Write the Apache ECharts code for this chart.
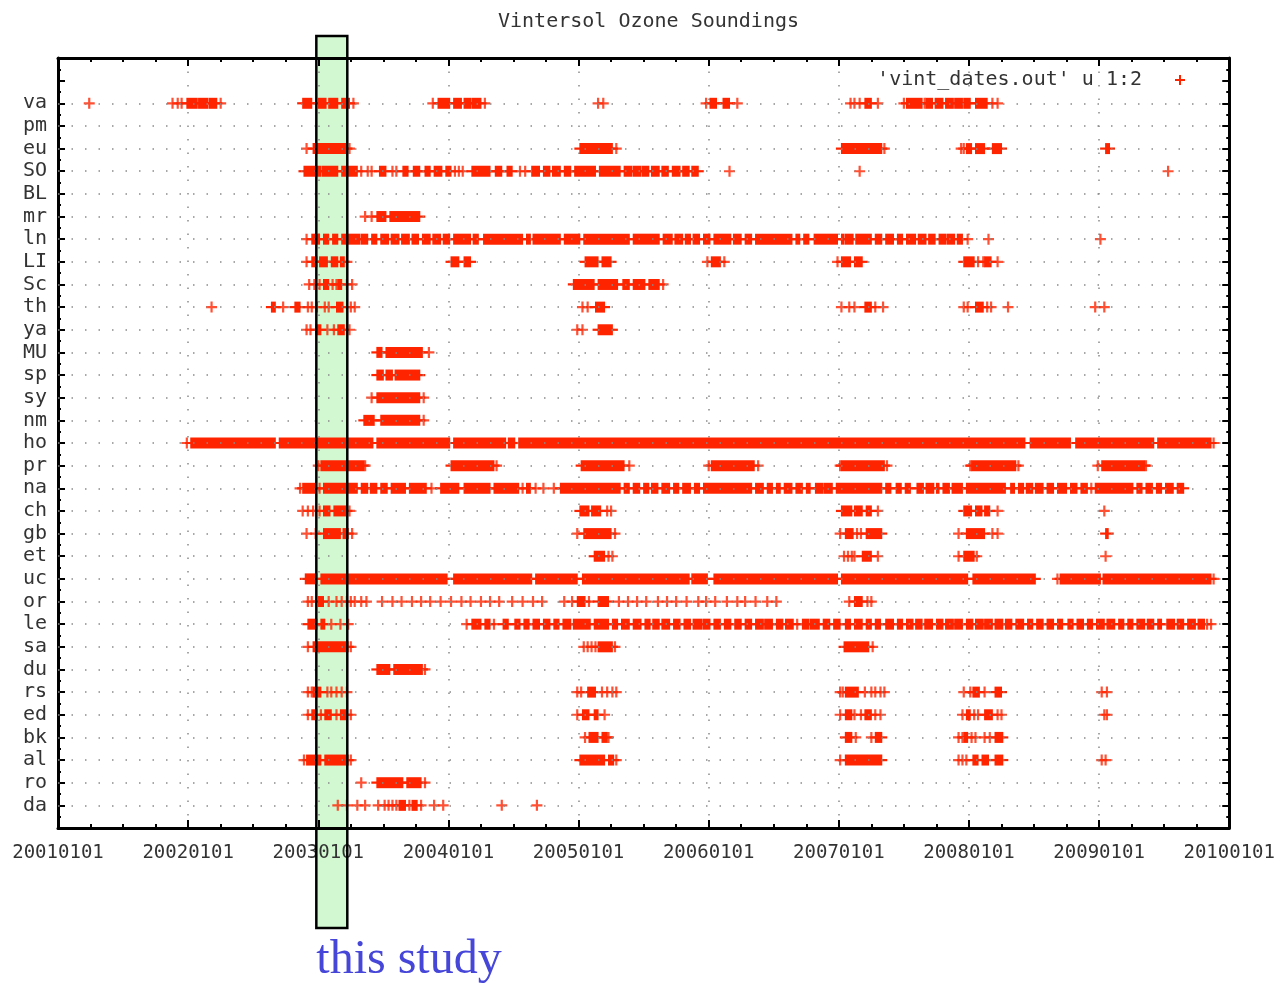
<!DOCTYPE html>
<html>
<head>
<meta charset="utf-8">
<script src="https://cdn.jsdelivr.net/npm/echarts@6/dist/echarts.min.js"></script>
<style>
html,body{margin:0;padding:0;background:#fff;}
#chart{width:1278px;height:985px;}
</style>
</head>
<body>
<div id="chart"></div>
<script>
// ---------------- data (decimal years) ----------------
const TITLE = 'Vintersol Ozone Soundings';
const LEGEND_NAME = "'vint_dates.out' u 1:2";
const X_LABELS = ['20010101','20020101','20030101','20040101','20050101','20060101','20070101','20080101','20090101','20100101'];
const CATS = ['va','pm','eu','SO','BL','mr','ln','LI','Sc','th','ya','MU','sp','sy','nm','ho','pr','na','ch','gb','et','uc','or','le','sa','du','rs','ed','bk','al','ro','da'];
const STUDY = [2002.985, 2003.223];
const STUDY_TEXT = 'this study';

const runs_va = [[2001.99,2002.07],[2002.08,2002.15],[2002.16,2002.22],[2002.88,2002.95],[2003.00,2003.06],[2003.08,2003.15],[2003.18,2003.24],[2003.92,2004.01],[2004.04,2004.10],[2004.12,2004.17],[2004.18,2004.25],[2006.01,2006.06],[2006.11,2006.16],[2007.20,2007.25],[2007.52,2007.64],[2007.67,2007.72],[2007.74,2007.80],[2007.82,2007.88],[2007.89,2007.95],[2007.96,2008.01],[2008.05,2008.14]];
const pts_va = [2001.24,2001.88,2001.92,2001.95,2002.25,2003.27,2003.88,2004.28,2005.15,2005.19,2005.98,2006.22,2007.09,2007.12,2007.16,2007.30,2007.50,2007.66,2008.18,2008.22];
const runs_pm = [];
const pts_pm = [];
const runs_eu = [[2002.96,2003.22],[2005.01,2005.26],[2007.02,2007.33],[2007.98,2008.02],[2008.05,2008.12],[2008.18,2008.25],[2009.05,2009.08]];
const pts_eu = [2002.91,2003.24,2005.29,2007.35,2007.94,2007.96];
const runs_SO = [[2002.89,2003.02],[2003.03,2003.15],[2003.18,2003.30],[2003.47,2003.52],[2003.65,2003.69],[2003.73,2003.78],[2003.82,2003.86],[2003.89,2003.95],[2003.98,2004.02],[2004.18,2004.32],[2004.36,2004.41],[2004.45,2004.49],[2004.64,2004.70],[2004.73,2004.78],[2004.80,2004.86],[2004.89,2004.94],[2004.97,2005.13],[2005.16,2005.32],[2005.35,2005.41],[2005.42,2005.48],[2005.49,2005.54],[2005.56,2005.62],[2005.64,2005.69],[2005.72,2005.78],[2005.80,2005.85],[2005.87,2005.92]];
const pts_SO = [2003.33,2003.38,2003.41,2003.57,2003.60,2004.05,2004.08,2004.11,2004.55,2004.59,2006.16,2007.16,2009.53];
const runs_BL = [];
const pts_BL = [];
const runs_mr = [[2003.45,2003.52],[2003.55,2003.78]];
const pts_mr = [2003.36,2003.41];
const runs_ln = [[2002.95,2003.01],[2003.04,2003.08],[2003.11,2003.15],[2003.18,2003.32],[2003.33,2003.38],[2003.41,2003.45],[2003.48,2003.54],[2003.56,2003.62],[2003.64,2003.70],[2003.72,2003.77],[2003.80,2003.86],[2003.88,2003.94],[2003.96,2004.01],[2004.04,2004.17],[2004.19,2004.23],[2004.27,2004.57],[2004.60,2004.63],[2004.65,2004.86],[2004.89,2005.01],[2005.04,2005.39],[2005.42,2005.62],[2005.65,2005.72],[2005.74,2005.80],[2005.82,2005.86],[2005.88,2005.93],[2005.96,2006.01],[2006.04,2006.17],[2006.19,2006.25],[2006.28,2006.33],[2006.36,2006.64],[2006.67,2006.70],[2006.73,2006.77],[2006.81,2006.99],[2007.02,2007.04],[2007.05,2007.11],[2007.13,2007.25],[2007.28,2007.33],[2007.36,2007.42],[2007.45,2007.49],[2007.52,2007.59],[2007.61,2007.67],[2007.69,2007.74],[2007.77,2007.82],[2007.83,2007.89],[2007.91,2007.95]];
const pts_ln = [2002.91,2007.99,2008.15,2009.01];
const runs_LI = [[2002.95,2002.99],[2003.01,2003.07],[2003.10,2003.15],[2003.17,2003.20],[2004.02,2004.08],[2004.12,2004.17],[2005.05,2005.15],[2005.18,2005.25],[2006.02,2006.09],[2007.02,2007.09],[2007.12,2007.18],[2007.96,2008.04],[2008.12,2008.17]];
const pts_LI = [2002.91,2003.22,2005.99,2006.12,2006.99,2008.07,2008.11,2008.22];
const runs_Sc = [[2003.04,2003.08],[2003.15,2003.18],[2004.96,2005.12],[2005.15,2005.30],[2005.34,2005.39],[2005.42,2005.51],[2005.54,2005.62]];
const pts_Sc = [2002.93,2002.97,2003.01,2003.11,2003.14,2003.22,2003.26,2005.65];
const runs_th = [[2002.64,2002.67],[2002.82,2002.86],[2003.14,2003.19],[2005.13,2005.20],[2007.20,2007.25],[2008.05,2008.11]];
const pts_th = [2002.18,2002.73,2002.92,2002.95,2002.99,2003.05,2003.08,2003.25,2003.28,2005.03,2005.07,2007.02,2007.08,2007.12,2007.28,2007.34,2007.96,2007.99,2008.14,2008.17,2008.30,2008.97,2009.04];
const runs_ya = [[2002.98,2003.02],[2003.15,2003.20],[2005.15,2005.26]];
const pts_ya = [2002.91,2002.94,2003.07,2003.12,2003.24,2004.99,2005.03];
const runs_MU = [[2003.45,2003.49],[2003.52,2003.80]];
const pts_MU = [2003.85];
const runs_sp = [[2003.45,2003.50],[2003.52,2003.57],[2003.59,2003.78]];
const pts_sp = [];
const runs_sy = [[2003.45,2003.78]];
const pts_sy = [2003.41,2003.81];
const runs_nm = [[2003.35,2003.43],[2003.48,2003.78]];
const pts_nm = [2003.81];
const runs_ho = [[2002.02,2002.67],[2002.70,2003.42],[2003.45,2004.01],[2004.04,2004.44],[2004.46,2004.51],[2004.54,2008.43],[2008.47,2008.78],[2008.82,2009.42],[2009.45,2009.86]];
const pts_ho = [2001.99,2009.88];
const runs_pr = [[2003.02,2003.35],[2004.02,2004.35],[2005.02,2005.35],[2006.02,2006.35],[2007.02,2007.35],[2008.02,2008.36],[2009.02,2009.35]];
const pts_pr = [2003.00,2003.36,2004.37,2005.39,2006.00,2006.38,2007.01,2007.37,2008.01,2008.38,2008.99,2009.36];
const runs_na = [[2002.88,2002.98],[2003.04,2003.30],[2003.33,2003.38],[2003.40,2003.45],[2003.48,2003.53],[2003.56,2003.67],[2003.70,2003.83],[2003.94,2004.08],[2004.12,2004.32],[2004.35,2004.54],[2004.60,2004.63],[2004.86,2005.32],[2005.35,2005.39],[2005.42,2005.47],[2005.50,2005.54],[2005.56,2005.61],[2005.64,2005.70],[2005.73,2005.77],[2005.80,2005.86],[2005.89,2005.93],[2005.96,2006.33],[2006.36,2006.42],[2006.45,2006.49],[2006.52,2006.55],[2006.58,2006.64],[2006.67,2006.72],[2006.75,2006.78],[2006.82,2006.88],[2006.89,2006.95],[2006.98,2007.33],[2007.36,2007.40],[2007.44,2007.48],[2007.51,2007.55],[2007.60,2007.65],[2007.67,2007.73],[2007.75,2007.77],[2007.80,2007.85],[2007.87,2007.95],[2007.98,2008.28],[2008.32,2008.35],[2008.38,2008.42],[2008.44,2008.49],[2008.51,2008.57],[2008.60,2008.65],[2008.68,2008.75],[2008.78,2008.83],[2008.86,2008.91],[2008.97,2009.26],[2009.29,2009.33],[2009.36,2009.41],[2009.44,2009.48],[2009.51,2009.57],[2009.60,2009.65]];
const pts_na = [2002.86,2003.01,2003.87,2004.57,2004.67,2004.73,2004.81,2008.94];
const runs_ch = [[2003.04,2003.09],[2003.12,2003.22],[2005.01,2005.08],[2005.10,2005.17],[2007.02,2007.10],[2007.12,2007.18],[2007.21,2007.25],[2007.96,2008.02],[2008.05,2008.10],[2008.12,2008.16]];
const pts_ch = [2002.88,2002.92,2002.96,2003.01,2003.24,2005.22,2005.25,2007.30,2008.22,2009.04];
const runs_gb = [[2003.04,2003.17],[2003.19,2003.23],[2005.04,2005.25],[2007.05,2007.11],[2007.21,2007.33],[2007.98,2008.12],[2009.05,2009.07]];
const pts_gb = [2002.91,2002.98,2003.26,2004.99,2005.28,2007.01,2007.14,2007.17,2007.92,2008.18,2008.22];
const runs_et = [[2005.12,2005.20],[2007.18,2007.25],[2007.96,2008.04]];
const pts_et = [2005.23,2005.26,2007.04,2007.07,2007.10,2007.12,2007.30,2007.92,2008.06,2009.05];
const runs_uc = [[2002.90,2002.99],[2003.02,2003.99],[2004.04,2004.64],[2004.67,2004.99],[2005.03,2005.85],[2005.87,2005.99],[2006.04,2006.99],[2007.02,2007.99],[2008.03,2008.51],[2008.70,2009.01],[2009.03,2009.86]];
const pts_uc = [2008.68,2009.88];
const runs_or = [[2003.00,2003.04],[2004.99,2005.05],[2005.15,2005.23],[2007.12,2007.18]];
const pts_or = [2002.92,2002.95,2003.08,2003.14,2003.18,2003.22,2003.25,2003.28,2003.33,2003.37,2003.49,2003.57,2003.64,2003.72,2003.79,2003.86,2003.94,2004.02,2004.10,2004.17,2004.25,2004.32,2004.39,2004.49,2004.57,2004.65,2004.72,2004.89,2004.95,2005.08,2005.31,2005.38,2005.45,2005.52,2005.61,2005.68,2005.75,2005.83,2005.92,2005.98,2006.05,2006.14,2006.22,2006.28,2006.36,2006.45,2006.52,2007.08,2007.22,2007.25];
const runs_le = [[2002.92,2002.99],[2003.02,2003.05],[2004.18,2004.25],[2004.28,2004.32],[2004.42,2004.46],[2004.51,2004.55],[2004.58,2004.62],[2004.65,2004.70],[2004.73,2004.78],[2004.81,2004.85],[2004.88,2004.94],[2004.96,2005.09],[2005.12,2005.23],[2005.26,2005.30],[2005.33,2005.39],[2005.42,2005.48],[2005.51,2005.55],[2005.57,2005.62],[2005.64,2005.70],[2005.73,2005.78],[2005.81,2005.86],[2005.88,2005.95],[2005.96,2006.01],[2006.04,2006.09],[2006.12,2006.17],[2006.20,2006.25],[2006.28,2006.33],[2006.36,2006.42],[2006.43,2006.49],[2006.52,2006.57],[2006.59,2006.65],[2006.72,2006.77],[2006.78,2006.85],[2006.88,2006.93],[2006.96,2007.01],[2007.05,2007.09],[2007.12,2007.18],[2007.21,2007.25],[2007.28,2007.32],[2007.36,2007.42],[2007.45,2007.49],[2007.52,2007.57],[2007.59,2007.64],[2007.66,2007.72],[2007.75,2007.80],[2007.82,2007.88],[2007.89,2007.95],[2007.98,2008.03],[2008.05,2008.11],[2008.12,2008.18],[2008.20,2008.26],[2008.28,2008.33],[2008.36,2008.42],[2008.45,2008.49],[2008.52,2008.57],[2008.60,2008.65],[2008.68,2008.72],[2008.76,2008.80],[2008.83,2008.88],[2008.91,2008.95],[2008.98,2009.04],[2009.06,2009.12],[2009.15,2009.19],[2009.22,2009.26],[2009.29,2009.35],[2009.37,2009.42],[2009.45,2009.48],[2009.52,2009.58],[2009.60,2009.65],[2009.68,2009.74],[2009.76,2009.81]];
const pts_le = [2003.10,2003.17,2003.23,2004.14,2004.35,2006.68,2009.83,2009.86];
const runs_sa = [[2002.96,2003.23],[2005.15,2005.26],[2007.04,2007.23]];
const pts_sa = [2002.92,2003.25,2005.04,2005.07,2005.10,2005.13,2005.28,2007.26];
const runs_du = [[2003.45,2003.55],[2003.58,2003.80]];
const pts_du = [2003.82];
const runs_rs = [[2002.96,2003.02],[2005.07,2005.13],[2007.05,2007.15],[2008.03,2008.08],[2008.20,2008.25]];
const pts_rs = [2002.92,2002.95,2003.07,2003.10,2003.14,2003.18,2003.22,2004.99,2005.02,2005.18,2005.22,2005.26,2005.29,2007.01,2007.03,2007.20,2007.25,2007.28,2007.32,2007.35,2007.96,2008.01,2008.12,2009.02,2009.06];
const runs_ed = [[2002.95,2002.99],[2003.05,2003.10],[2003.17,2003.22],[2005.03,2005.08],[2005.12,2005.15],[2007.05,2007.10],[2007.20,2007.25],[2007.98,2008.01],[2008.12,2008.18]];
const pts_ed = [2002.92,2003.02,2003.14,2003.25,2004.99,2005.20,2007.01,2007.12,2007.17,2007.28,2007.32,2007.95,2008.04,2008.07,2008.22,2008.25,2009.04,2009.06];
const runs_bk = [[2005.08,2005.15],[2005.18,2005.22],[2007.05,2007.10],[2007.28,2007.33],[2007.96,2007.99],[2008.20,2008.26]];
const pts_bk = [2005.05,2005.23,2007.13,2007.25,2007.92,2007.95,2008.02,2008.05,2008.12,2008.16];
const runs_al = [[2002.91,2003.02],[2003.05,2003.23],[2005.01,2005.20],[2005.23,2005.27],[2007.05,2007.33],[2008.03,2008.07],[2008.10,2008.15],[2008.20,2008.26]];
const pts_al = [2002.89,2003.25,2005.29,2007.01,2007.92,2007.95,2007.98,2009.02,2009.05];
const runs_ro = [[2003.45,2003.65],[2003.68,2003.79]];
const pts_ro = [2003.33,2003.82];
const runs_da = [[2003.62,2003.67],[2003.72,2003.76]];
const pts_da = [2003.15,2003.22,2003.30,2003.36,2003.46,2003.51,2003.54,2003.57,2003.60,2003.70,2003.79,2003.89,2003.96,2004.41,2004.68];

// ---------------- build ----------------
const STATION_DATA = {
  va:[runs_va,pts_va], pm:[runs_pm,pts_pm], eu:[runs_eu,pts_eu], SO:[runs_SO,pts_SO], BL:[runs_BL,pts_BL],
  mr:[runs_mr,pts_mr], ln:[runs_ln,pts_ln], LI:[runs_LI,pts_LI], Sc:[runs_Sc,pts_Sc], th:[runs_th,pts_th],
  ya:[runs_ya,pts_ya], MU:[runs_MU,pts_MU], sp:[runs_sp,pts_sp], sy:[runs_sy,pts_sy], nm:[runs_nm,pts_nm],
  ho:[runs_ho,pts_ho], pr:[runs_pr,pts_pr], na:[runs_na,pts_na], ch:[runs_ch,pts_ch], gb:[runs_gb,pts_gb],
  et:[runs_et,pts_et], uc:[runs_uc,pts_uc], or:[runs_or,pts_or], le:[runs_le,pts_le], sa:[runs_sa,pts_sa],
  du:[runs_du,pts_du], rs:[runs_rs,pts_rs], ed:[runs_ed,pts_ed], bk:[runs_bk,pts_bk], al:[runs_al,pts_al],
  ro:[runs_ro,pts_ro], da:[runs_da,pts_da]
};
const N = CATS.length;
const runData = [], ptData = [];
CATS.forEach((name, i) => {
  const y = N - i;
  const [r, p] = STATION_DATA[name];
  r.forEach(([a, b]) => runData.push([a, b, y]));
  p.forEach(x => ptData.push([x, y]));
});

const RED = '#ff2400';
const MONO = '"DejaVu Sans Mono", "Liberation Mono", monospace';
const PLUS = 'path://M4,0H6V4H10V6H6V10H4V6H0V4H4Z';
const GRID_DOT = {color:'#8a8a8a', width:1.5, type:[1.5, 12]};

const chart = echarts.init(document.getElementById('chart'), null, {renderer:'canvas'});

function xAxisCfg(pos) {
  return {
    type:'value', min:2001, max:2010, interval:1, position:pos,
    axisLine:{show:true, onZero:false, lineStyle:{color:'#000', width:3}},
    axisTick:{show:true, inside:true, length:8, lineStyle:{color:'#000', width:2}},
    minorTick:{show:true, splitNumber:4, length:4, lineStyle:{color:'#000', width:2}},
    axisLabel: pos === 'bottom' ? {
      show:true, formatter:v => X_LABELS[Math.round(v - 2001)] || '',
      fontFamily:MONO, fontSize:19, color:'#333', margin:16,
      showMinLabel:true, showMaxLabel:true
    } : {show:false},
    splitLine: pos === 'bottom' ? {show:true, lineStyle:GRID_DOT} : {show:false}
  };
}
function yAxisCfg(pos) {
  return {
    type:'value', min:0, max:N + 2, interval:1, position:pos,
    axisLine:{show:true, onZero:false, lineStyle:{color:'#000', width:3}},
    axisTick:{show:true, inside:true, length:7, lineStyle:{color:'#000', width:2}},
    minorTick:{show:true, splitNumber:2, length:3, lineStyle:{color:'#000', width:2}},
    axisLabel: pos === 'left' ? {
      show:true, formatter:v => (v >= 1 && v <= N) ? CATS[N - v] : '',
      fontFamily:MONO, fontSize:20, color:'#333', margin:11
    } : {show:false},
    splitLine:{show:false}
  };
}

chart.setOption({
  animation:false,
  backgroundColor:'#fff',
  title:{
    text:TITLE, left:493, top:7,
    textStyle:{fontFamily:MONO, fontSize:20, fontWeight:'normal', color:'#333'}
  },
  legend:{
    data:[{name:LEGEND_NAME, icon:PLUS}],
    right:88, top:65, align:'right', selectedMode:false,
    itemWidth:10, itemHeight:10,
    textStyle:{fontFamily:MONO, fontSize:20, color:'#333', padding:[0, 28, 0, 0]}
  },
  grid:{left:58, right:48, top:58, bottom:157, containLabel:false},
  xAxis:[xAxisCfg('bottom'), xAxisCfg('top')],
  yAxis:[yAxisCfg('left'), yAxisCfg('right')],
  series:[
    {
      type:'line', name:'grid', data:[], silent:true, z:1,
      markLine:{
        silent:true, symbol:'none', label:{show:false},
        lineStyle:GRID_DOT,
        data:CATS.map((_, i) => ({yAxis:i + 1}))
      }
    },
    {
      type:'custom', name:LEGEND_NAME, data:runData, z:3,
      itemStyle:{color:RED},
      encode:{x:[0, 1], y:2},
      renderItem:function(params, api) {
        const y = api.value(2);
        const a = api.coord([api.value(0), y]);
        const b = api.coord([api.value(1), y]);
        const H = 11, arm = 5.5, t = 2.2;
        return {
          type:'group',
          children:[
            {type:'rect', shape:{x:a[0] - 0.5, y:a[1] - H / 2, width:b[0] - a[0] + 1, height:H}, style:{fill:RED}},
            {type:'rect', shape:{x:a[0] - arm, y:a[1] - t / 2, width:b[0] - a[0] + 2 * arm, height:t}, style:{fill:RED}}
          ]
        };
      }
    },
    {
      type:'scatter', name:LEGEND_NAME, data:ptData, z:3,
      symbol:PLUS, symbolSize:11,
      itemStyle:{color:RED}
    }
  ]
});

// "this study" annotation box (positioned from the data values of STUDY)
const xs0 = chart.convertToPixel({xAxisIndex:0}, STUDY[0]);
const xs1 = chart.convertToPixel({xAxisIndex:0}, STUDY[1]);
chart.setOption({
  graphic:[
    {type:'rect', z:-10, silent:true,
     shape:{x:xs0, y:36, width:xs1 - xs0, height:892},
     style:{fill:'#d2f8d2', stroke:null}},
    {type:'rect', z:100, silent:true,
     shape:{x:xs0, y:36, width:xs1 - xs0, height:892},
     style:{fill:null, stroke:'#000', lineWidth:2.5}},
    {type:'text', z:100, silent:true, x:xs0, y:984,
     style:{text:STUDY_TEXT, font:'48px "Liberation Serif", "Times New Roman", serif', fill:'#4646d8', verticalAlign:'bottom', align:'left'}}
  ]
});
</script>
</body>
</html>
